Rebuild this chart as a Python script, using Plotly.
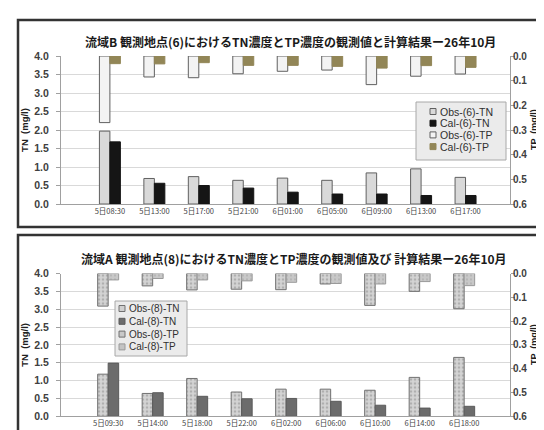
import plotly.graph_objects as go

# ---------------- data ----------------
top_labels = ["5日08:30", "5日13:00", "5日17:00", "5日21:00", "6日01:00",
              "6日05:00", "6日09:00", "6日13:00", "6日17:00"]
top_obs_tn = [1.97, 0.69, 0.74, 0.64, 0.70, 0.64, 0.84, 0.95, 0.72]
top_cal_tn = [1.68, 0.56, 0.50, 0.43, 0.32, 0.27, 0.27, 0.23, 0.23]
top_obs_tp = [0.27, 0.085, 0.088, 0.072, 0.062, 0.057, 0.116, 0.082, 0.073]
top_cal_tp = [0.031, 0.032, 0.027, 0.038, 0.038, 0.042, 0.049, 0.039, 0.046]

bot_labels = ["5日09:30", "5日14:00", "5日18:00", "5日22:00", "6日02:00",
              "6日06:00", "6日10:00", "6日14:00", "6日18:00"]
bot_obs_tn = [1.18, 0.64, 1.06, 0.68, 0.76, 0.76, 0.73, 1.09, 1.65]
bot_cal_tn = [1.49, 0.66, 0.56, 0.49, 0.50, 0.42, 0.31, 0.23, 0.28]
bot_obs_tp = [0.137, 0.052, 0.069, 0.066, 0.068, 0.044, 0.134, 0.075, 0.148]
bot_cal_tp = [0.027, 0.021, 0.027, 0.031, 0.037, 0.042, 0.044, 0.034, 0.051]

top_names = ["Obs-(6)-TN", "Cal-(6)-TN", "Obs-(6)-TP", "Cal-(6)-TP"]
bot_names = ["Obs-(8)-TN", "Cal-(8)-TN", "Obs-(8)-TP", "Cal-(8)-TP"]

top_title = "流域B 観測地点(6)におけるTN濃度とTP濃度の観測値と計算結果ー26年10月"
bot_title = "流域A 観測地点(8)におけるTN濃度とTP濃度の観測値及び 計算結果ー26年10月"
tn_title = "TN  (mg/l)"
tp_title = "TP  (mg/l)"

# ---------------- figure ----------------
W, H = 544, 430
def px(x):
    return x / W
def py(y):
    return 1 - y / H

idx = list(range(len(top_labels)))
BW = 0.236
OUT = "#606060"

fig = go.Figure()
legend_specs = {"top": [], "bot": []}

def bar(x, y, name, xa, ya, panel, color, line="#555555", pattern=None, obs=True):
    m = dict(color=color, line=dict(color=line, width=1))
    if pattern:
        m["pattern"] = pattern
    fig.add_trace(go.Bar(x=x, y=y, name=name, xaxis=xa, yaxis=ya, showlegend=False,
                         width=BW, offset=-BW if obs else 0, marker=m, base=0))
    legend_specs[panel].append((name, color, line))

# top panel
bar(idx, top_obs_tn, top_names[0], "x", "y", "top", "#d9d9d9", OUT)
bar(idx, top_cal_tn, top_names[1], "x", "y", "top", "#151515", "#151515", obs=False)
bar(idx, top_obs_tp, top_names[2], "x", "y2", "top", "#f3f3f3", OUT)
bar(idx, top_cal_tp, top_names[3], "x", "y2", "top", "#928657", "#928657", obs=False)

# bottom panel
dots = dict(shape=".", fgcolor="#8a8a8a", bgcolor="#d4d4d4", size=4, solidity=0.35)
dots2 = dict(shape=".", fgcolor="#a0a0a0", bgcolor="#c8c8c8", size=4, solidity=0.25)
bar(idx, bot_obs_tn, bot_names[0], "x2", "y3", "bot", "#d0d0d0", "#707070", dots)
bar(idx, bot_cal_tn, bot_names[1], "x2", "y3", "bot", "#6c6c6c", "#5a5a5a", obs=False)
bar(idx, bot_obs_tp, bot_names[2], "x2", "y4", "bot", "#c8c8c8", "#707070", dots)
bar(idx, bot_cal_tp, bot_names[3], "x2", "y4", "bot", "#c4c4c4", "#9a9a9a", dots2, obs=False)

tickfont = dict(family="Liberation Sans", size=10.5, color="#404040", weight="bold")
rtickfont = dict(family="Liberation Sans", size=10, color="#404040", weight="bold")
xfont = dict(family="Noto Sans CJK JP", size=7.5, color="#454545")
titlefont = dict(family="Liberation Sans", size=9.5, color="#202020", weight="bold")

xd = [px(53), px(502)]
top_dom = [py(196), py(48)]
bot_dom = [py(408.3), py(265.5)]

common_y = dict(showline=True, linecolor="#a0a0a0", ticks="outside", ticklen=4,
                tickcolor="#a0a0a0", automargin=False, zeroline=False)

def left_axis(dom, anchor):
    return dict(domain=dom, anchor=anchor, range=[0, 4], dtick=0.5, tickformat=".1f",
                showgrid=True, gridcolor="#d9d9d9", gridwidth=1, ticklabelstandoff=5,
                tickfont=tickfont,
                title=dict(text=tn_title, font=titlefont, standoff=3), **common_y)

def right_axis(over, anchor):
    return dict(overlaying=over, anchor=anchor, side="right", range=[0.6, 0], dtick=0.1,
                tickformat=".1f", showgrid=False, tickfont=rtickfont,
                ticklabelstandoff=-4, **common_y)

def x_axis(anchor, rng, labels):
    return dict(domain=xd, anchor=anchor, range=rng, tickvals=idx, ticktext=labels,
                tickfont=xfont, showline=True, linecolor="#a0a0a0", ticks="",
                automargin=False, showgrid=False, zeroline=False)

fig.update_layout(
    width=W, height=H,
    margin=dict(l=0, r=0, t=0, b=0),
    paper_bgcolor="white", plot_bgcolor="white",
    barmode="overlay",
    showlegend=False,
    xaxis=x_axis("y", [-1.1, 9.0], top_labels),
    yaxis=left_axis(top_dom, "x"),
    yaxis2=right_axis("y", "x"),
    xaxis2=x_axis("y3", [-1.06, 9.03], bot_labels),
    yaxis3=left_axis(bot_dom, "x2"),
    yaxis4=right_axis("y3", "x2"),
)

title_font = dict(family="Noto Sans CJK JP", size=12, color="#1a1a1a", weight="bold")
fig.add_annotation(text=top_title, x=px(282), y=py(33), xref="paper", yref="paper",
                   showarrow=False, font=title_font, xanchor="center", yanchor="middle")
fig.add_annotation(text=bot_title, x=px(286), y=py(250), xref="paper", yref="paper",
                   showarrow=False, font=title_font, xanchor="center", yanchor="middle")

# right-hand axis titles
for cy in (122, 337):
    fig.add_annotation(text=tp_title, x=px(526), y=py(cy), xref="paper", yref="paper",
                       showarrow=False, textangle=-90, xanchor="center", yanchor="middle",
                       borderpad=0,
                       font=dict(family="Liberation Sans", size=9, color="#202020",
                                 weight="bold"))

# legends (boxes with small square keys)
def draw_legend(specs, bx0, by0, bx1, by1, sym_x, first_y, step, fsize):
    fig.add_shape(type="rect", xref="paper", yref="paper",
                  x0=px(bx0), x1=px(bx1), y0=py(by1), y1=py(by0),
                  fillcolor="#ebebeb", line=dict(color="#a8a8a8", width=1), layer="above")
    for i, (name, color, line) in enumerate(specs):
        cy = first_y + i * step
        fig.add_shape(type="rect", xref="paper", yref="paper",
                      x0=px(sym_x), x1=px(sym_x + 6), y0=py(cy + 3), y1=py(cy - 3),
                      fillcolor=color, line=dict(color=line, width=1), layer="above")
        fig.add_annotation(text=name, x=px(sym_x + 7.5), y=py(cy), xref="paper", yref="paper",
                           showarrow=False, xanchor="left", yanchor="middle",
                           font=dict(family="Liberation Sans", size=fsize, color="#303030"))

draw_legend(legend_specs["top"], 408, 94, 498, 152, 422, 103.5, 11.7, 10.5)
draw_legend(legend_specs["bot"], 107, 293, 179, 348, 111, 300.5, 12.8, 10)

# panel frames
fig.add_shape(type="rect", xref="paper", yref="paper",
              x0=px(10), x1=px(542), y0=py(219), y1=py(12),
              line=dict(color="#333333", width=2.5))
fig.add_shape(type="rect", xref="paper", yref="paper",
              x0=px(10), x1=px(560), y0=py(445), y1=py(227),
              line=dict(color="#333333", width=2.5))

fig.write_html("out.html")
